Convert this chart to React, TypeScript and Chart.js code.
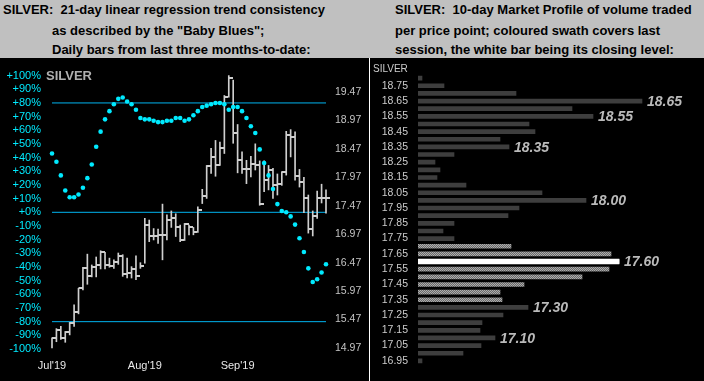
import React, { useEffect, useRef } from 'react';
import { Chart, registerables } from 'chart.js';

Chart.register(...registerables);

// ---------- Left panel data ----------
const julDays = [2, 3, 5, 8, 9, 10, 11, 12, 15, 16, 17, 18, 19, 22, 23, 24, 25, 26, 29, 30, 31];
const augDays = [1, 2, 5, 6, 7, 8, 9, 12, 13, 14, 15, 16, 19, 20, 21, 22, 23, 26, 27, 28, 29];
const sepDays = [2, 3, 4, 5, 6, 9, 10, 11, 12, 13, 16, 17, 18, 19, 20, 23, 24, 25, 26, 27, 30];
const monthLabels = ["Jul'19", "Aug'19", "Sep'19"];
const days = [
  ...julDays.map((d) => `Jul ${d}`),
  ...augDays.map((d) => `Aug ${d}`),
  ...sepDays.map((d) => `Sep ${d}`),
];

const highs = [
  15.15, 15.31, 15.35, 15.26, 15.42, 15.73, 16.02, 16.39, 16.62, 16.43,
  16.57, 16.68, 16.65, 16.55, 16.52, 16.64, 16.61, 16.55, 16.40, 16.59,
  16.47, 17.25, 17.22, 17.07, 17.06, 17.50, 17.31, 17.38, 17.33, 17.13,
  17.16, 17.13, 17.09, 17.45, 17.76, 18.18, 18.48, 18.62, 18.59, 19.41,
  19.76, 19.68, 18.90, 18.42, 18.27, 18.34, 18.56, 18.26, 18.26, 18.18,
  18.13, 18.03, 18.07, 18.78, 18.81, 18.77, 18.11, 17.97, 17.66, 17.38,
  17.73, 17.85, 17.75,
];
const lows = [
  14.97, 15.08, 15.12, 15.07, 15.20, 15.35, 15.57, 15.99, 16.09, 16.22,
  16.22, 16.36, 16.36, 16.39, 16.37, 16.44, 16.23, 16.20, 16.20, 16.17,
  16.37, 16.46, 16.84, 16.87, 16.81, 16.52, 16.87, 17.09, 16.93, 16.84,
  16.86, 16.96, 16.96, 17.00, 17.51, 17.60, 18.04, 17.99, 18.18, 18.39,
  19.38, 18.57, 18.05, 18.04, 17.86, 17.98, 18.10, 17.48, 17.72, 17.75,
  17.60, 17.66, 17.83, 18.01, 18.33, 17.92, 17.80, 17.35, 16.99, 16.94,
  17.25, 17.52, 17.34,
];
const closes = [
  15.14, 15.28, 15.14, 15.25, 15.41, 15.60, 16.02, 16.38, 16.23, 16.39,
  16.43, 16.65, 16.43, 16.42, 16.49, 16.59, 16.27, 16.29, 16.36, 16.23,
  16.41, 17.14, 16.94, 16.94, 16.96, 16.96, 17.22, 17.25, 17.09, 16.87,
  17.15, 17.10, 17.01, 17.39, 17.65, 18.17, 18.33, 18.18, 18.49, 19.38,
  19.72, 18.75, 18.28, 18.11, 18.11, 18.20, 18.18, 17.51, 17.93, 18.10,
  17.83, 17.85, 18.07, 18.72, 18.68, 17.99, 17.89, 17.60, 17.06, 17.29,
  17.60, 17.61, 17.61,
];
// "Baby Blues": 21-day linear regression trend consistency (%)
const trendPct = [
  43, 37, 27, 16, 11, 11, 13, 18, 25, 35,
  48, 59, 68, 74, 79, 83, 84, 81, 79, 75,
  69, 68, 68, 67, 66, 66, 67, 67, 69, 69,
  67, 68, 71, 74, 77, 78, 79, 80, 80, 79,
  75, 77, 77, 74, 69, 63, 58, 46, 36, 27,
  17, 6, 1, 0, -3, -9, -19, -29, -41, -51,
  -49, -44, -38,
];
const bandLevels = [80, 0, -80];
const priceTicks = [14.97, 15.47, 15.97, 16.47, 16.97, 17.47, 17.97, 18.47, 18.97, 19.47];

// ---------- Right panel data ----------
const levels = [
  '18.80', '18.75', '18.70', '18.65', '18.60', '18.55', '18.50', '18.45', '18.40', '18.35',
  '18.30', '18.25', '18.20', '18.15', '18.10', '18.05', '18.00', '17.95', '17.90', '17.85',
  '17.80', '17.75', '17.70', '17.65', '17.60', '17.55', '17.50', '17.45', '17.40', '17.35',
  '17.30', '17.25', '17.20', '17.15', '17.10', '17.05', '17.00', '16.95',
];
const volumes = [
  4, 26, 98, 224, 154, 175, 111, 117, 82, 91,
  36, 17, 22, 19, 48, 124, 168, 101, 90, 36,
  25, 36, 93, 193, 201, 191, 164, 106, 82, 84,
  110, 85, 64, 62, 77, 63, 45, 4,
];
const swathLevels = ['17.70', '17.65', '17.60', '17.55', '17.50', '17.45', '17.40', '17.35'];
const closeLevel = '17.60';
const profileLabels = ['18.65', '18.55', '18.35', '18.00', '17.60', '17.30', '17.10'];

const FONT = 'Arial, "Liberation Sans", sans-serif';

function makeTick(): HTMLCanvasElement {
  const c = document.createElement('canvas');
  c.width = 8;
  c.height = 2;
  const g = c.getContext('2d')!;
  g.fillStyle = '#cfcfcf';
  g.fillRect(4, 0, 4, 2);
  return c;
}

function makeSwath(ctx: CanvasRenderingContext2D): CanvasPattern | string {
  const c = document.createElement('canvas');
  c.width = 2;
  c.height = 2;
  const g = c.getContext('2d')!;
  g.fillStyle = '#6a6a6a';
  g.fillRect(0, 0, 2, 2);
  g.fillStyle = '#acacac';
  g.fillRect(0, 0, 1, 1);
  g.fillRect(1, 1, 1, 1);
  return ctx.createPattern(c, 'repeat') || '#8a8a8a';
}

export default function App() {
  const leftRef = useRef<HTMLCanvasElement>(null);
  const rightRef = useRef<HTMLCanvasElement>(null);

  useEffect(() => {
    const lctx = leftRef.current!.getContext('2d')!;
    const rctx = rightRef.current!.getContext('2d')!;
    const tick = makeTick();
    const swath = makeSwath(rctx);
    const monthStart = [0, julDays.length, julDays.length + augDays.length];

    const left = new Chart(lctx, {
      type: 'bar',
      data: {
        labels: days,
        datasets: [
          ...bandLevels.map((v) => ({
            type: 'line' as const,
            data: [
              { x: days[0], y: v },
              { x: days[days.length - 1], y: v },
            ],
            borderColor: '#00b4f0',
            borderWidth: 1,
            pointRadius: 0,
            yAxisID: 'pct',
            clip: false as any,
            order: 4,
          })),
          {
            type: 'bar' as const,
            data: highs.map((h, i) => [lows[i], h]),
            backgroundColor: '#cfcfcf',
            barThickness: 1,
            yAxisID: 'price',
            clip: false as any,
            order: 3,
          },
          {
            type: 'line' as const,
            data: closes,
            showLine: false,
            pointStyle: tick as any,
            pointRadius: 3,
            yAxisID: 'price',
            clip: false as any,
            order: 2,
          },
          {
            type: 'line' as const,
            data: trendPct,
            showLine: false,
            pointRadius: 2.3,
            pointBackgroundColor: '#00eaff',
            pointBorderWidth: 0,
            yAxisID: 'pct',
            clip: false as any,
            order: 1,
          },
        ] as any,
      },
      options: {
        responsive: false,
        animation: false,
        events: [],
        layout: { padding: { top: 17, left: 0, right: 0, bottom: 0 } },
        plugins: { legend: { display: false }, tooltip: { enabled: false } },
        scales: {
          x: {
            type: 'category',
            offset: false,
            grid: { display: false, drawTicks: false },
            border: { display: false },
            ticks: {
              autoSkip: false,
              maxRotation: 0,
              color: '#e8e8e8',
              padding: 10,
              font: { family: FONT, size: 11 },
              callback: (_v: any, i: number) => {
                const k = monthStart.indexOf(i);
                return k >= 0 ? monthLabels[k] : '';
              },
            },
            afterFit: (s: any) => {
              s.height = 32;
            },
          },
          pct: {
            type: 'linear',
            position: 'left',
            min: -100,
            max: 100,
            grid: { display: false, drawTicks: false },
            border: { display: false },
            ticks: {
              stepSize: 10,
              autoSkip: false,
              color: '#00eaff',
              padding: 11,
              font: { family: FONT, size: 11 },
              callback: (v: any) => (Number(v) >= 0 ? '+' : '') + v + '%',
            },
            afterFit: (s: any) => {
              s.width = 52;
            },
          },
          price: {
            type: 'linear',
            position: 'right',
            min: 14.952,
            max: 19.76,
            grid: { display: false, drawTicks: false },
            border: { display: false },
            afterBuildTicks: (s: any) => {
              s.ticks = priceTicks.map((v) => ({ value: v }));
            },
            ticks: {
              autoSkip: false,
              color: '#c4c4c4',
              padding: 9,
              font: { family: FONT, size: 10.5 },
              callback: (v: any) => Number(v).toFixed(2),
            },
            afterFit: (s: any) => {
              s.width = 43;
            },
          },
        } as any,
      },
    });

    const labelPlugin = {
      id: 'profileLabels',
      afterDatasetsDraw(chart: any) {
        const meta = chart.getDatasetMeta(0);
        const c = chart.ctx;
        c.save();
        c.font = `italic bold 14px ${FONT}`;
        c.fillStyle = '#bababa';
        c.textBaseline = 'middle';
        c.textAlign = 'left';
        profileLabels.forEach((lbl) => {
          const i = levels.indexOf(lbl);
          const el = meta.data[i];
          if (el) c.fillText(lbl, el.x + 5, el.y + 1);
        });
        c.restore();
      },
    };

    const right = new Chart(rctx, {
      type: 'bar',
      data: {
        labels: levels,
        datasets: [
          {
            data: volumes,
            backgroundColor: (c: any) => {
              const lv = levels[c.dataIndex];
              if (lv === closeLevel) return '#ffffff';
              return swathLevels.includes(lv) ? swath : '#3e3e3e';
            },
            barThickness: 4,
            grouped: false,
          },
          {
            data: levels.map((lv, i) => (lv === closeLevel ? volumes[i] : null)),
            backgroundColor: '#ffffff',
            barThickness: 5,
            grouped: false,
          },
        ] as any,
      },
      options: {
        indexAxis: 'y',
        responsive: false,
        animation: false,
        events: [],
        layout: { padding: { top: 15, bottom: 4, left: 0, right: 0 } },
        plugins: { legend: { display: false }, tooltip: { enabled: false } },
        scales: {
          x: { display: false, min: 0, max: 286 },
          y: {
            grid: { display: false, drawTicks: false },
            border: { display: false },
            ticks: {
              autoSkip: false,
              color: '#cccccc',
              padding: 10,
              font: { family: FONT, size: 10.5 },
              callback: (_v: any, i: number) => (levels[i].endsWith('5') ? levels[i] : ''),
            },
            afterFit: (s: any) => {
              s.width = 48;
            },
          },
        } as any,
      },
      plugins: [labelPlugin],
    });

    return () => {
      left.destroy();
      right.destroy();
    };
  }, []);

  const head: React.CSSProperties = {
    position: 'absolute',
    whiteSpace: 'pre',
    font: `bold 13px ${FONT}`,
    lineHeight: '20px',
    color: '#000',
  };

  return (
    <div
      style={{
        position: 'fixed',
        left: 0,
        top: 0,
        width: 704,
        height: 381,
        background: '#c0c0c0',
        overflow: 'hidden',
        fontFamily: FONT,
      }}
    >
      <div style={{ ...head, left: 3, top: 0 }}>{'SILVER:  21-day linear regression trend consistency'}</div>
      <div style={{ ...head, left: 52, top: 20.5 }}>{'as described by the "Baby Blues";'}</div>
      <div style={{ ...head, left: 52, top: 39.5 }}>{'Daily bars from last three months-to-date:'}</div>
      <div style={{ ...head, left: 395, top: 0 }}>{'SILVER:  10-day Market Profile of volume traded'}</div>
      <div style={{ ...head, left: 395, top: 20.5 }}>{'per price point; coloured swath covers last'}</div>
      <div style={{ ...head, left: 395, top: 39.5 }}>{'session, the white bar being its closing level:'}</div>

      <canvas
        ref={leftRef}
        width={369}
        height={323}
        style={{ position: 'absolute', left: 0, top: 58, background: '#000' }}
      />
      <div style={{ position: 'absolute', left: 369, top: 58, width: 1, height: 323, background: '#fff' }} />
      <canvas
        ref={rightRef}
        width={334}
        height={323}
        style={{ position: 'absolute', left: 370, top: 58, background: '#000' }}
      />
      <div
        style={{
          position: 'absolute',
          left: 46,
          top: 68,
          font: `bold 13px ${FONT}`,
          lineHeight: '16px',
          color: '#b0b0b0',
        }}
      >
        SILVER
      </div>
      <div
        style={{
          position: 'absolute',
          left: 373,
          top: 63,
          font: `10px ${FONT}`,
          lineHeight: '12px',
          color: '#cccccc',
        }}
      >
        SILVER
      </div>
    </div>
  );
}
